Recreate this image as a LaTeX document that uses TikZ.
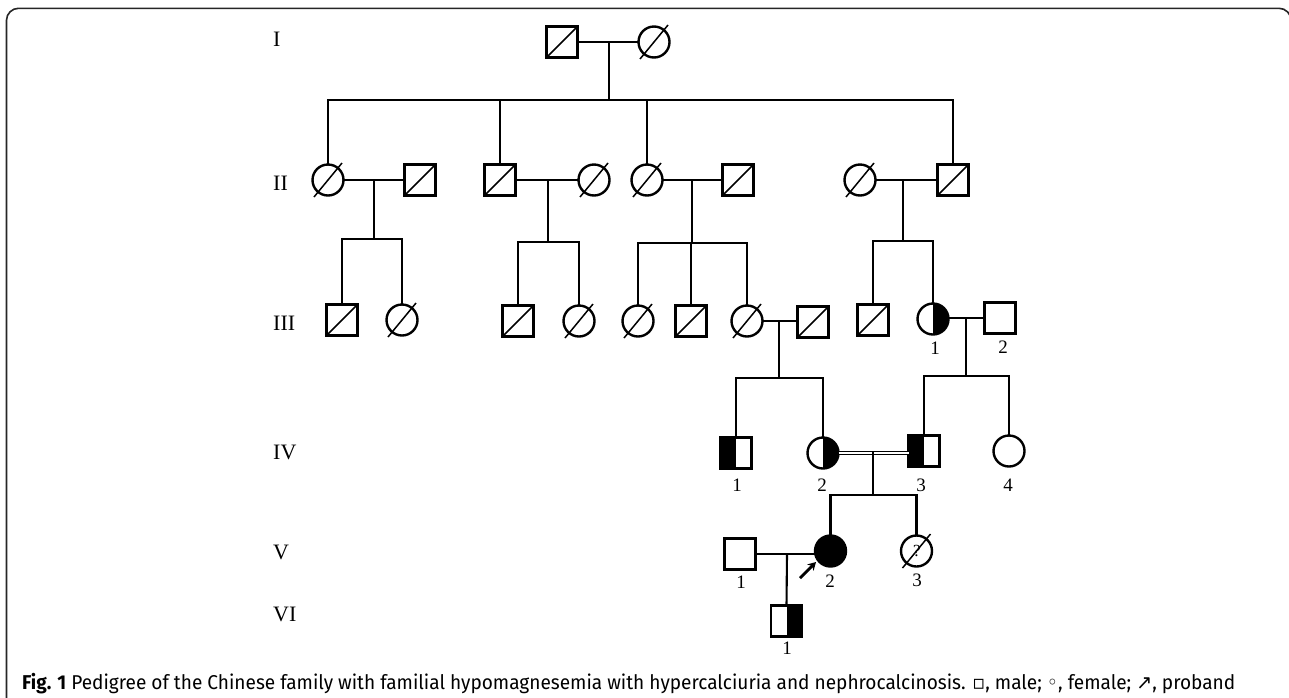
\documentclass[tikz,border=0pt]{standalone}
\usepackage{fontspec}
\usepackage{graphicx}
\setmainfont{Liberation Serif}
\newfontfamily\capfont{Fira Sans}
\newfontfamily\symfont{DejaVu Sans}
\usetikzlibrary{arrows.meta,calc}
\newcommand\deadc[1]{\draw[slash] ($(#1.center)+(-14,17)$) -- ($(#1.center)+(14,-17)$);}
\begin{document}
\begin{tikzpicture}[x=1pt,y=-1pt,
 ind/.style={draw, line width=2.4pt, minimum size=31pt, inner sep=0pt, outer sep=0pt},
 male/.style={ind, rectangle},
 female/.style={ind, circle},
 lhalf/.style={path picture={\fill (path picture bounding box.north west) rectangle (path picture bounding box.south);}},
 rhalf/.style={path picture={\fill (path picture bounding box.north) rectangle (path picture bounding box.south east);}},
 full/.style={fill=black},
 dsq/.style={path picture={\draw[line width=1.5pt] (path picture bounding box.south west) -- (path picture bounding box.north east);}},
 ln/.style={line width=2.1pt},
 slash/.style={line width=1.5pt},
 gen/.style={font=\fontsize{22}{22}\selectfont, anchor=west, inner sep=0pt},
 num/.style={font=\fontsize{19}{19}\selectfont, inner sep=0pt},
]
\useasboundingbox (0,0) rectangle (1289,697);
\fill[white] (0,0) rectangle (1289,697);
\draw[line width=1.6pt, black!85, rounded corners=12pt] (6.5,712) -- (6.5,8.3) -- (1291,8.3) -- (1291,712);

% generation labels
\node[gen] (gI) at (273,39) {I};
\node[gen] (gII) at (273,183) {II};
\node[gen] (gIII) at (273,323) {III};
\node[gen] (gIV) at (273,452) {IV};
\node[gen] (gV) at (273,552) {V};
\node[gen] (gVI) at (273,614) {VI};

% Generation I
\node[male,dsq] (I1) at (562,42) {};
\node[female] (I2) at (654,42) {};
\deadc{I2}

% Generation II
\node[female] (II1) at (328,180) {}; \deadc{II1}
\node[male,dsq] (II2) at (420,180) {};
\node[male,dsq] (II3) at (500,180) {};
\node[female] (II4) at (594,180) {}; \deadc{II4}
\node[female] (II5) at (647,180) {}; \deadc{II5}
\node[male,dsq] (II6) at (738,180) {};
\node[female] (II7) at (860,180) {}; \deadc{II7}
\node[male,dsq] (II8) at (953,180) {};

% Generation III
\node[male,dsq] (III1) at (342,320) {};
\node[female] (III2) at (402,320) {}; \deadc{III2}
\node[male,dsq] (III3) at (518,321) {};
\node[female] (III4) at (579,321) {}; \deadc{III4}
\node[female] (III5) at (638,321) {}; \deadc{III5}
\node[male,dsq] (III6) at (691,321) {};
\node[female] (III7) at (747,321) {}; \deadc{III7}
\node[male,dsq] (III8) at (813,322) {};
\node[male,dsq] (III9) at (873,320) {};
\node[female,rhalf] (III10) at (933,319) {};
\node[male] (III11) at (1000,318) {};
\node[num] (lIII10) at (935,348) {1};
\node[num] (lIII11) at (1003,347) {2};

% Generation IV
\node[male,lhalf] (IV1) at (736,453) {};
\node[female,rhalf] (IV2) at (823,453) {};
\node[male,lhalf] (IV3) at (924,451) {};
\node[female] (IV4) at (1009,451) {};
\node[num] (lIV1) at (737,485) {1};
\node[num] (lIV2) at (822,485) {2};
\node[num] (lIV3) at (921,485) {3};
\node[num] (lIV4) at (1008,485) {4};

% Generation V
\node[male] (V1) at (740,554) {};
\node[female,full] (V2) at (830.5,551) {};
\node[female] (V3) at (916.5,551) {};
\node[font=\fontsize{17}{17}\selectfont, inner sep=0pt] (q3) at (917,551) {?};
\deadc{V3}
\node[num] (lV1) at (741,582) {1};
\node[num] (lV2) at (830,581) {2};
\node[num] (lV3) at (917,580) {3};

% Generation VI
\node[male,rhalf] (VI1) at (786.5,621) {};
\node[num] (lVI1) at (787,648) {1};

% junction coordinates
\coordinate (mI) at (609,42);   \coordinate (sI) at (609,100);
\coordinate (mA) at (374,180);  \coordinate (sA) at (374,239);
\coordinate (mB) at (548,180);  \coordinate (sB) at (548,242);
\coordinate (mC) at (692,180);  \coordinate (sC) at (692,243);
\coordinate (mD) at (903,180);  \coordinate (sD) at (903,241);
\coordinate (mE) at (779,321);  \coordinate (sE) at (779,378);
\coordinate (mF) at (966,318);  \coordinate (sF) at (966,376);
\coordinate (mG) at (873,452);  \coordinate (sG) at (873,495);
\coordinate (mH) at (787,554);

% Generation I connectors
\draw[ln] (I1.east) -- (I2.west);
\draw[line width=2.5pt] (mI) -- (sI);
\draw[ln] (II1.north) |- (sI) -| (II8.north);
\draw[ln] (II3.north) -- (II3.north |- sI);
\draw[ln] (II5.north) -- (II5.north |- sI);

% Generation II connectors
\draw[ln] (II1.east) -- (II2.west);
\draw[ln] (mA) -- (sA);
\draw[ln] (III1.north) |- (sA) -| (III2.north);
\draw[ln] (II3.east) -- (II4.west);
\draw[ln] (mB) -- (sB);
\draw[ln] (III3.north) |- (sB) -| (III4.north);
\draw[ln] (II5.east) -- (II6.west);
\draw[ln] (mC) -- (sC);
\draw[ln] (III5.north) |- (sC) -| (III7.north);
\draw[ln] (III6.north) -- (III6.north |- sC);
\draw[ln] (II7.east) -- (II8.west);
\draw[ln] (mD) -- (sD);
\draw[ln] (III9.north) |- (sD) -| (III10.north);

% Generation III connectors
\draw[ln] (III7.east) -- (III7.east -| III8.west);
\draw[ln] (mE) -- (sE);
\draw[ln] (IV1.north) |- (sE) -| (IV2.north);
\draw[ln] (III10.east |- mF) -- (III11.west |- mF);
\draw[ln] (mF) -- (sF);
\draw[ln] (IV3.north) |- (sF) -| (IV4.north);

% Generation IV connectors
\draw[line width=1.3pt, double, double distance=1.4pt] (IV2.east) -- (IV2.east -| IV3.west);
\draw[ln] (mG) -- (sG);
\draw[ln] (V2.north) |- (sG) -| (V3.north);

% Generation V connectors
\draw[ln] (V1.east) -- (V1.east -| V2.west);
\draw[ln] (mH) -- (VI1.north);

% proband arrow
\coordinate (arA) at (800,578);
\coordinate (arB) at (816,562);
\draw[line width=2.8pt, -{Stealth[length=8pt,width=9pt]}] (arA) -- (arB);

% caption
\node[anchor=base west, inner sep=0pt] (cap) at (22,689) {\resizebox{1213pt}{\height}{\capfont\fontsize{20}{20}\selectfont\textbf{Fig. 1} Pedigree of the Chinese family with familial hypomagnesemia with hypercalciuria and nephrocalcinosis. {\symfont ▫}, male; {\symfont ◦}, female; {\symfont ↗}, proband}};
\end{tikzpicture}
\end{document}
